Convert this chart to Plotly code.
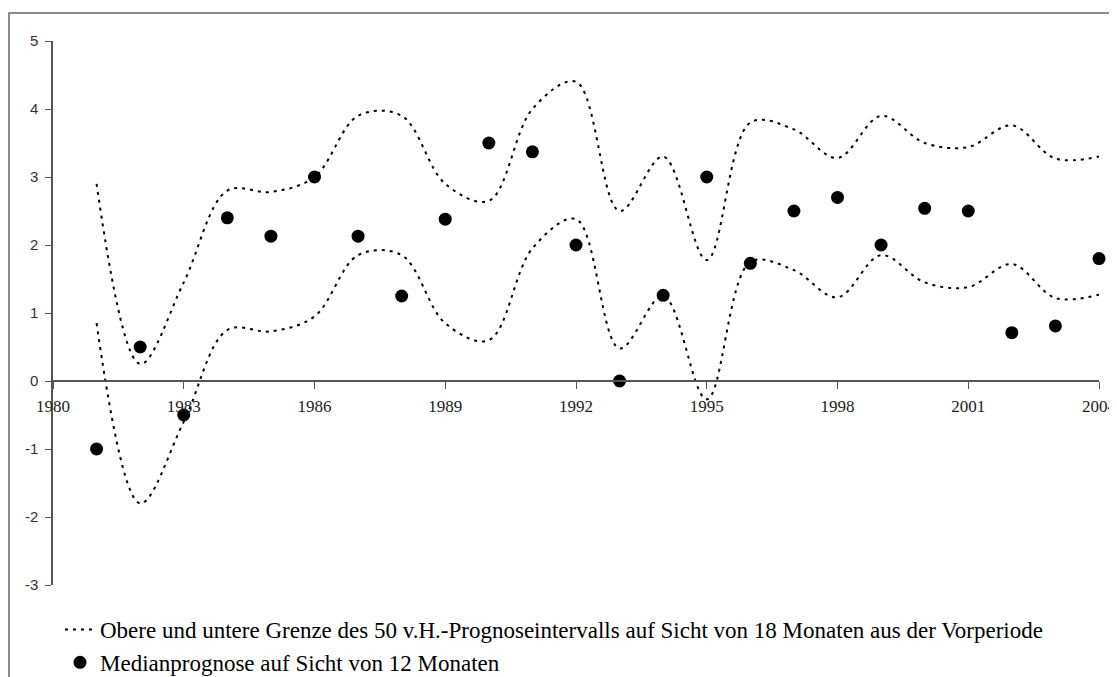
import plotly.graph_objects as go

years = list(range(1981, 2005))
upper = [2.9, 0.25, 1.45, 2.8, 2.78, 3.0, 3.9, 3.9, 2.9, 2.65, 4.0, 4.4,
         2.5, 3.3, 1.78, 3.8, 3.7, 3.28, 3.9, 3.5, 3.44, 3.76, 3.27, 3.3]
lower = [0.85, -1.8, -0.6, 0.75, 0.73, 0.95, 1.85, 1.85, 0.85, 0.6, 1.95, 2.38,
         0.48, 1.25, -0.27, 1.75, 1.63, 1.23, 1.85, 1.45, 1.38, 1.72, 1.22, 1.27]
median = [-1.0, 0.5, -0.5, 2.4, 2.13, 3.0, 2.13, 1.25, 2.38, 3.5, 3.37, 2.0,
          0.0, 1.26, 3.0, 1.73, 2.5, 2.7, 2.0, 2.54, 2.5, 0.71, 0.81, 1.8]
xticks = list(range(1980, 2005, 3))
yticks = list(range(-3, 6))

name_band = "Obere und untere Grenze des 50 v.H.-Prognoseintervalls auf Sicht von 18 Monaten aus der Vorperiode"
name_median = "Medianprognose auf Sicht von 12 Monaten"

# page body has an 8px margin, so the figure is sized/offset accordingly
W, H = 1109, 669
ML, MR, MT, MB = 45, 18, 33, 92
plot_w = W - ML - MR
plot_h = H - MT - MB

line_style = dict(color="black", width=2, dash="3px,5px", shape="spline", smoothing=1)

fig = go.Figure()
fig.add_trace(go.Scatter(x=years, y=upper, mode="lines", line=line_style,
                         name=name_band, showlegend=True, cliponaxis=False))
fig.add_trace(go.Scatter(x=years, y=lower, mode="lines", line=line_style,
                         name=name_band, showlegend=False, cliponaxis=False))
fig.add_trace(go.Scatter(x=years, y=median, mode="markers",
                         marker=dict(color="black", size=13),
                         name=name_median, cliponaxis=False))

fig.update_layout(
    width=W, height=H,
    margin=dict(l=ML, r=MR, t=MT, b=MB, autoexpand=False),
    paper_bgcolor="white", plot_bgcolor="white",
    showlegend=True,
    legend=dict(x=(52 - ML) / plot_w, y=-(600 - (H - MB)) / plot_h,
                xanchor="left", yanchor="top",
                font=dict(family="Liberation Serif", size=23, color="black"),
                tracegroupgap=0, itemwidth=30, bgcolor="rgba(0,0,0,0)"),
    xaxis=dict(range=[1980, 2004], anchor="free", position=3 / 8,
               showline=True, linecolor="#555", linewidth=1.5,
               ticks="outside", ticklen=7, tickcolor="#555",
               tickvals=xticks, ticktext=[str(t) for t in xticks],
               showgrid=False, zeroline=False, ticklabelstandoff=3,
               tickfont=dict(family="Liberation Serif", size=17, color="#222")),
    yaxis=dict(range=[-3, 5], showline=True, linecolor="#555", linewidth=1.5,
               ticks="outside", ticklen=6, tickcolor="#555",
               tickvals=yticks, ticktext=[str(t) for t in yticks],
               showgrid=False, zeroline=False, ticklabelstandoff=4,
               tickfont=dict(family="Liberation Sans", size=15, color="#333")),
    shapes=[dict(type="rect", xref="paper", yref="paper",
                 x0=(1 - ML) / plot_w, x1=1.2, y0=-0.5, y1=((H - MB) - 5) / plot_h,
                 line=dict(color="#666", width=1.5), layer="below")],
)

fig.write_html("out.html")
